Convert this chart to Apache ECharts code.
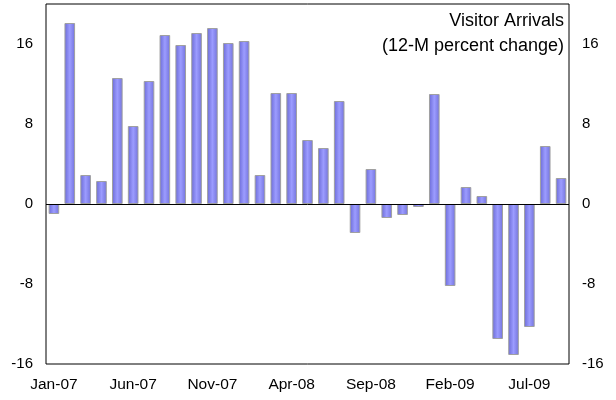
<!DOCTYPE html>
<html>
<head>
<meta charset="utf-8">
<script src="https://cdn.jsdelivr.net/npm/echarts@6/dist/echarts.min.js"></script>
<style>html,body{margin:0;padding:0;background:#fff}#c{width:616px;height:400px}</style>
</head>
<body>
<div id="c"></div>
<script>
const categories = ['Jan-07','Feb-07','Mar-07','Apr-07','May-07','Jun-07','Jul-07','Aug-07','Sep-07','Oct-07','Nov-07','Dec-07',
  'Jan-08','Feb-08','Mar-08','Apr-08','May-08','Jun-08','Jul-08','Aug-08','Sep-08','Oct-08','Nov-08','Dec-08',
  'Jan-09','Feb-09','Mar-09','Apr-09','May-09','Jun-09','Jul-09','Aug-09','Sep-09'];
const arrivals = [-1.0, 18.1, 2.9, 2.3, 12.6, 7.8, 12.3, 16.9, 15.9, 17.1, 17.6, 16.1,
  16.3, 2.9, 11.1, 11.1, 6.4, 5.6, 10.3, -2.9, 3.5, -1.4, -1.1, -0.3,
  11.0, -8.2, 1.7, 0.8, -13.5, -15.1, -12.3, 5.8, 2.6];
const titleLines = ['Visitor Arrivals', '(12-M percent change)'];
const yTicks = [-16, -8, 0, 8, 16];

const font = 'Liberation Sans, Arial, sans-serif';
const chart = echarts.init(document.getElementById('c'), null, {renderer: 'canvas'});
const yAxisCommon = {
  type: 'value', min: -16, max: 20, interval: 8,
  axisLine: {show: false}, axisTick: {show: false}, splitLine: {show: false},
  axisLabel: {
    color: '#000', fontSize: 15, fontFamily: font, margin: 13, showMaxLabel: false,
    formatter: v => (yTicks.indexOf(v) >= 0 ? String(v) : '')
  }
};
chart.setOption({
  animation: false,
  backgroundColor: '#fff',
  grid: {left: 46, right: 47, top: 4, bottom: 36, show: true, borderColor: '#000', borderWidth: 1, backgroundColor: 'transparent'},
  xAxis: {
    type: 'category', data: categories, boundaryGap: true,
    axisLine: {show: false, onZero: false}, axisTick: {show: false},
    axisLabel: {interval: 4, color: '#000', fontSize: 15.5, fontFamily: font, margin: 13}
  },
  yAxis: [
    Object.assign({}, yAxisCommon, {position: 'left'}),
    Object.assign({}, yAxisCommon, {position: 'right'})
  ],
  graphic: titleLines.map((t, i) => ({
    type: 'text', right: 52, top: 12 + i * 25,
    style: {text: t, font: '18px ' + font, fill: '#000'}
  })),
  series: [{
    type: 'bar', data: arrivals, barWidth: '67%',
    itemStyle: {
      color: new echarts.graphic.LinearGradient(0, 0, 1, 0, [
        {offset: 0, color: '#6a6ad6'},
        {offset: 0.5, color: '#9c9cff'},
        {offset: 1, color: '#7272dc'}
      ]),
      borderColor: '#a0a0a0', borderWidth: 1
    },
    markLine: {
      silent: true, symbol: 'none', label: {show: false},
      lineStyle: {color: '#000', width: 1, type: 'solid'},
      data: [{yAxis: 0}]
    }
  }]
});
</script>
</body>
</html>
